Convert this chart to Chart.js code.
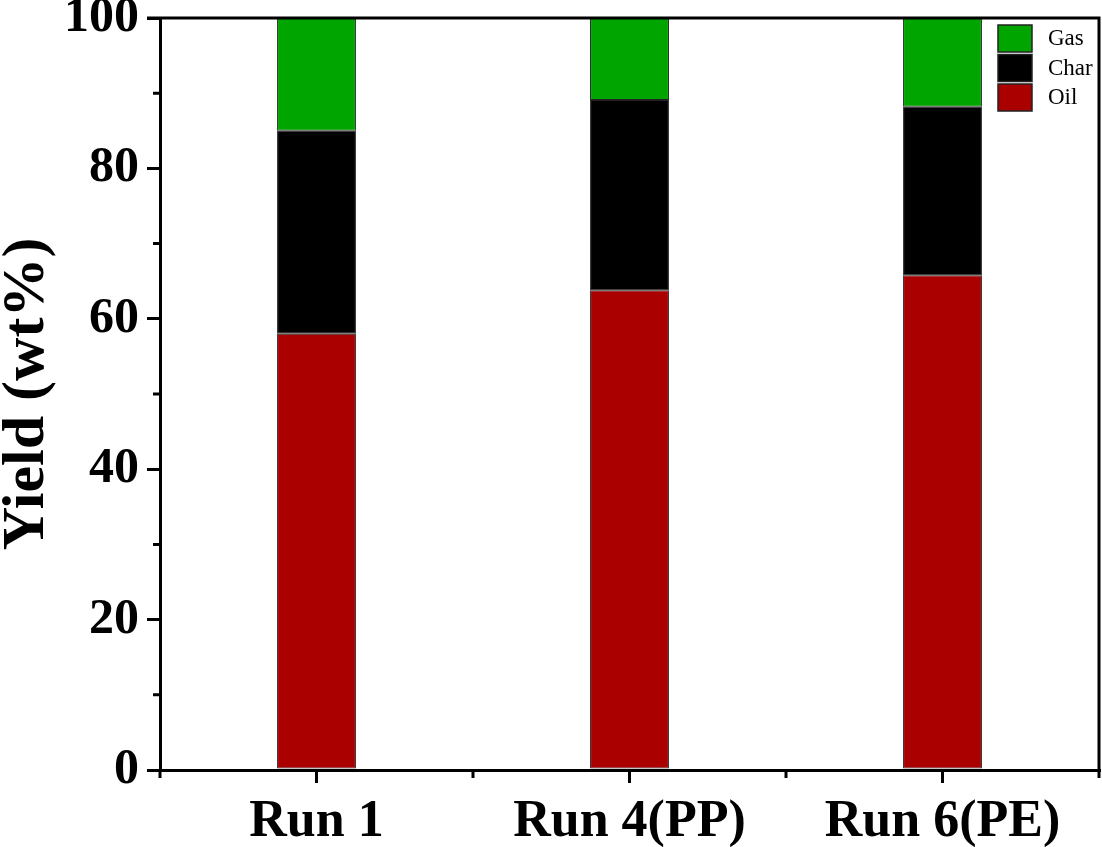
<!DOCTYPE html>
<html>
<head>
<meta charset="utf-8">
<script src="https://cdn.jsdelivr.net/npm/chart.js@4.4.0/dist/chart.umd.min.js"></script>
<style>
  html, body { margin: 0; padding: 0; background: #fff; }
  #wrap { width: 1102px; height: 847px; }
</style>
</head>
<body>
<div id="wrap"><canvas id="myChart" width="1102" height="847"></canvas></div>
<script>
var runs = ["Run 1", "Run 4(PP)", "Run 6(PE)"];

var Oil  = [58.0, 63.8, 65.8];
var Char = [27.0, 25.3, 22.4];
var Gas  = [15.0, 10.9, 11.8];

var yTicks = [0, 20, 40, 60, 80, 100];
var yMinor = [10, 30, 50, 70, 90];

// frame, minor ticks and the legend inside the plot
var extras = {
  id: 'extras',
  afterDraw: function (chart) {
    var c = chart.ctx, a = chart.chartArea;
    var xs = chart.scales.x, ys = chart.scales.y;
    c.save();
    c.strokeStyle = '#000';
    c.lineWidth = 3;
    c.beginPath();
    c.moveTo(a.left - 13, a.top);
    c.lineTo(a.right, a.top);
    c.lineTo(a.right, a.bottom + 8);
    c.stroke();

    c.beginPath();
    yMinor.forEach(function (v) {
      var y = ys.getPixelForValue(v);
      c.moveTo(a.left, y);
      c.lineTo(a.left - 7, y);
    });
    for (var i = 0; i < runs.length - 1; i++) {
      var x = (xs.getPixelForValue(i) + xs.getPixelForValue(i + 1)) / 2;
      c.moveTo(x, a.bottom);
      c.lineTo(x, a.bottom + 8);
    }
    c.moveTo(a.left, a.bottom);
    c.lineTo(a.left, a.bottom + 8);
    c.stroke();

    // legend
    var sets = chart.data.datasets.slice().reverse();
    c.font = '23px "Liberation Serif", serif';
    c.textBaseline = 'middle';
    c.textAlign = 'left';
    sets.forEach(function (ds, k) {
      var sx = a.right - 101, sy = a.top + 7 + k * 29.5;
      c.fillStyle = ds.backgroundColor;
      c.fillRect(sx, sy, 34, 27);
      c.lineWidth = 1.5;
      c.strokeStyle = '#222';
      c.strokeRect(sx, sy, 34, 27);
      c.fillStyle = '#000';
      c.fillText(ds.label, sx + 50, sy + 14);
    });
    c.restore();
  }
};

var ctx = document.getElementById("myChart");
var myChart = new Chart(ctx, {
  type: 'bar',
  data: {
    labels: runs,
    datasets: [
      { label: "Oil",  data: Oil,  backgroundColor: "#aa0000", borderColor: "#222", borderWidth: 1, borderSkipped: false },
      { label: "Char", data: Char, backgroundColor: "#000000", borderColor: "#222", borderWidth: 1, borderSkipped: false },
      { label: "Gas",  data: Gas,  backgroundColor: "#00a500", borderColor: "#222", borderWidth: 1, borderSkipped: false }
    ]
  },
  options: {
    responsive: false,
    animation: false,
    devicePixelRatio: 1,
    categoryPercentage: 1,
    barPercentage: 0.252,
    layout: { padding: { top: 18, right: 3, left: 0, bottom: 0 } },
    plugins: {
      legend: { display: false },
      tooltip: { enabled: false }
    },
    scales: {
      x: {
        stacked: true,
        afterFit: function (s) { s.height = 77; s.paddingLeft = 0; s.paddingRight = 0; },
        border: { color: '#000', width: 3 },
        grid: { display: true, drawOnChartArea: false, offset: false, color: '#000', lineWidth: 3, tickLength: 13 },
        ticks: {
          color: '#000',
          padding: 8,
          font: { family: '"Liberation Serif", serif', size: 52, weight: 'bold' }
        }
      },
      y: {
        stacked: true,
        min: 0,
        max: 100,
        afterFit: function (s) { s.width = 160; s.paddingTop = 0; s.paddingBottom = 0; },
        afterBuildTicks: function (s) { s.ticks = yTicks.map(function (v) { return { value: v }; }); },
        border: { color: '#000', width: 3 },
        grid: { display: true, drawOnChartArea: false, color: '#000', lineWidth: 3, tickLength: 13 },
        ticks: {
          color: '#000',
          padding: 8,
          font: { family: '"Liberation Serif", serif', size: 50, weight: 'bold' }
        },
        title: {
          display: true,
          text: 'Yield (wt%)',
          color: '#000',
          padding: 0,
          font: { family: '"Liberation Serif", serif', size: 60, weight: 'bold', lineHeight: 0.9 }
        }
      }
    }
  },
  plugins: [extras]
});
</script>
</body>
</html>
